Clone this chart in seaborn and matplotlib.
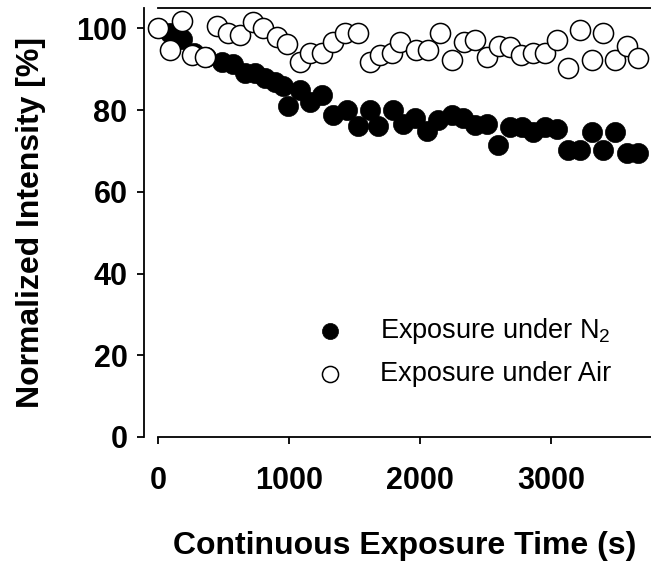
import numpy as np
import pandas as pd
import matplotlib
matplotlib.use('Agg')
import matplotlib.pyplot as plt
import seaborn as sns

# Exposure under N2 (filled circles)
n2_time = [0, 92, 183, 275, 366, 488, 572, 664, 740, 817, 893, 954, 992, 1084,
           1160, 1252, 1336, 1443, 1527, 1618, 1680, 1794, 1870, 1962, 2053, 2137,
           2244, 2328, 2420, 2511, 2595, 2687, 2779, 2863, 2954, 3046, 3130, 3221,
           3313, 3397, 3489, 3580, 3664]
n2_value = [100, 98.8, 97.5, 94, 93, 91.7, 91.4, 89, 89, 87.8, 86.8, 86, 81, 85,
            82, 83.6, 78.7, 80, 76, 80, 76, 80, 76.7, 78, 75, 77.5,
            78.7, 78, 76.3, 76.7, 71.4, 75.8, 75.8, 74.6, 75.8, 75.5, 70.2, 70.2,
            74.6, 70.2, 74.6, 69.4, 69.4]

# Exposure under Air (open circles)
air_time = [0, 92, 183, 260, 359, 450, 534, 626, 725, 802, 908, 985, 1084, 1160,
            1252, 1336, 1427, 1527, 1618, 1695, 1786, 1847, 1969, 2061, 2153, 2244,
            2336, 2420, 2511, 2603, 2687, 2771, 2863, 2954, 3046, 3130, 3221, 3313,
            3397, 3489, 3580, 3664]
air_value = [100, 94.6, 101.7, 93.4, 92.9, 100.7, 98.8, 98.3, 101.5, 100.2, 97.8, 96.3,
             91.7, 93.9, 94.1, 96.6, 99.0, 98.8, 91.7, 93.4, 94.1, 96.6, 94.6, 94.6,
             98.8, 92.2, 96.6, 97.1, 92.9, 95.8, 95.4, 93.4, 94.1, 93.9, 97.1, 90.2,
             99.5, 92.2, 98.8, 92.2, 95.8, 92.7]

x_ticks = [0, 1000, 2000, 3000]
y_ticks = [0, 20, 40, 60, 80, 100]

n2 = pd.DataFrame({'time': n2_time, 'value': n2_value})
air = pd.DataFrame({'time': air_time, 'value': air_value})

sns.set_style('ticks')
plt.rcParams['font.family'] = ['Liberation Sans', 'DejaVu Sans']
plt.rcParams['mathtext.fontset'] = 'custom'
plt.rcParams['mathtext.rm'] = 'Liberation Sans'
plt.rcParams['text.color'] = 'black'
plt.rcParams['axes.labelcolor'] = 'black'
plt.rcParams['xtick.color'] = 'black'
plt.rcParams['ytick.color'] = 'black'

fig = plt.figure(figsize=(6.51, 5.67), dpi=100)
ax = fig.add_axes([158 / 651, 130 / 567, 1 - 158 / 651, (437 - 8) / 567])

sns.scatterplot(data=n2, x='time', y='value', ax=ax, s=210, color='black',
                edgecolor='black', linewidth=0.5, label='Exposure under N$_2$',
                clip_on=False, zorder=3)
sns.scatterplot(data=air, x='time', y='value', ax=ax, s=210, color='white',
                edgecolor='black', linewidth=1.1, label='Exposure under Air',
                clip_on=False, zorder=4)

ax.set_xlim(0, 3763)
ax.set_ylim(0, 105)
ax.set_xticks(x_ticks)
ax.set_yticks(y_ticks)

ax.spines['right'].set_visible(False)
ax.spines['left'].set_position(('outward', 10))
for side in ['left', 'top', 'bottom']:
    ax.spines[side].set_linewidth(1.3)
    ax.spines[side].set_color('black')

ax.tick_params(axis='both', direction='out', length=5, width=1.3, color='black',
               labelcolor='black', labelsize=22)
ax.tick_params(axis='x', pad=16)
ax.tick_params(axis='y', pad=7)
for lab in ax.get_xticklabels() + ax.get_yticklabels():
    lab.set_fontweight('bold')

ax.set_xlabel('Continuous Exposure Time (s)', fontsize=23, fontweight='bold',
              labelpad=25, color='black')
ax.set_ylabel('Normalized Intensity [%]', fontsize=23, fontweight='bold',
              labelpad=22, color='black')

ax.legend(loc='upper left', bbox_to_anchor=(303 / 651, 1 - 316 / 567),
          bbox_transform=fig.transFigure, frameon=False, fontsize=19.5,
          borderpad=0, handlelength=2, handletextpad=0.85, labelspacing=0.55,
          markerscale=0.8, borderaxespad=0)

fig.savefig('out.png', dpi=100)
